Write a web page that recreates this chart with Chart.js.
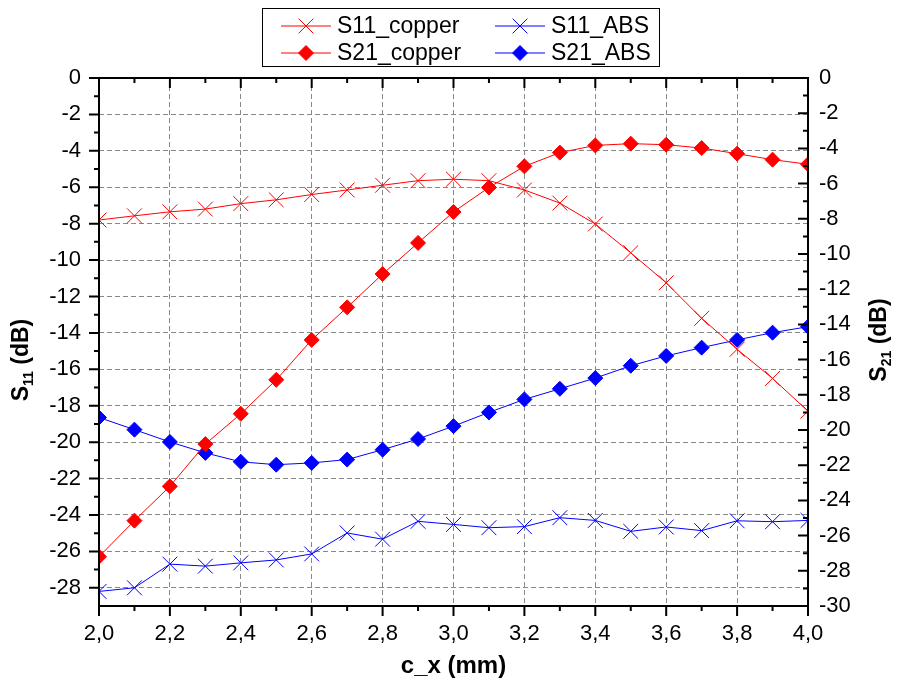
<!DOCTYPE html>
<html>
<head>
<meta charset="utf-8">
<script src="https://cdn.jsdelivr.net/npm/chart.js@4/dist/chart.umd.min.js"></script>
<style>
  html, body { margin: 0; padding: 0; background: #fff; }
</style>
</head>
<body>
<canvas id="myChart" width="900" height="684"></canvas>
<script>
// c_x in mm
const cx = [2.0, 2.1, 2.2, 2.3, 2.4, 2.5, 2.6, 2.7, 2.8, 2.9, 3.0,
            3.1, 3.2, 3.3, 3.4, 3.5, 3.6, 3.7, 3.8, 3.9, 4.0];

// S11 (left axis, dB)
const s11Copper = [-7.8, -7.57, -7.35, -7.2, -6.9, -6.69, -6.4, -6.15, -5.89, -5.64, -5.56,
                   -5.64, -6.15, -6.87, -8.02, -9.6, -11.25, -13.2, -14.9, -16.5, -18.3];
const s11Abs = [-28.2, -28.0, -26.7, -26.81, -26.63, -26.47, -26.14, -24.99, -25.33, -24.35, -24.52,
                -24.7, -24.64, -24.15, -24.3, -24.9, -24.66, -24.86, -24.32, -24.37, -24.3];

// S21 (right axis, dB)
const s21Copper = [-27.2, -25.15, -23.2, -20.8, -19.08, -17.15, -14.88, -13.03, -11.14, -9.37, -7.61,
                   -6.22, -5.02, -4.24, -3.83, -3.73, -3.79, -3.98, -4.3, -4.64, -4.9];
const s21Abs = [-19.29, -19.98, -20.68, -21.3, -21.81, -21.97, -21.87, -21.68, -21.12, -20.51, -19.78,
                -19.0, -18.26, -17.66, -17.05, -16.35, -15.79, -15.32, -14.88, -14.47, -14.13];

// tick values
const xTicks = [2.0, 2.2, 2.4, 2.6, 2.8, 3.0, 3.2, 3.4, 3.6, 3.8, 4.0];
const leftTicks = [0, -2, -4, -6, -8, -10, -12, -14, -16, -18, -20, -22, -24, -26, -28];
const rightTicks = [0, -2, -4, -6, -8, -10, -12, -14, -16, -18, -20, -22, -24, -26, -28, -30];

const FONT = '"Liberation Sans", Arial, sans-serif';
const RED = "#ff0000";
const BLUE = "#0000ff";

const pairs = (ys) => cx.map((x, i) => ({ x: x, y: ys[i] }));

function setTicks(values) {
  return (scale) => {
    scale.ticks = values.map((v) => ({ value: v }));
  };
}

function tickMarks(ctx, scale, majors, horizontal, base, dir) {
  // draw major + minor tick marks along an axis
  const mark = (v, len) => {
    const p = scale.getPixelForValue(v);
    if (horizontal) {
      ctx.moveTo(p, base);
      ctx.lineTo(p, base + dir * len);
    } else {
      ctx.moveTo(base, p);
      ctx.lineTo(base + dir * len, p);
    }
  };
  for (let i = 0; i < majors.length; i++) {
    mark(majors[i], 10);
    if (i < majors.length - 1) mark((majors[i] + majors[i + 1]) / 2, 5);
  }
}

function subTitle(ctx, px, py, main, sub, rest, rotate, size) {
  ctx.save();
  ctx.translate(px, py);
  if (rotate) ctx.rotate(-Math.PI / 2);
  const big = "bold " + size + "px " + FONT;
  const small = "bold 14px " + FONT;
  ctx.font = big;
  const w1 = ctx.measureText(main).width;
  const w3 = ctx.measureText(rest).width;
  ctx.font = small;
  const w2 = sub ? ctx.measureText(sub).width : 0;
  const start = -(w1 + w2 + w3) / 2;
  ctx.fillStyle = "#000";
  ctx.textAlign = "left";
  ctx.textBaseline = "middle";
  ctx.font = big;
  ctx.fillText(main, start, 0);
  if (sub) {
    ctx.font = small;
    ctx.fillText(sub, start + w1, 7);
  }
  ctx.font = big;
  ctx.fillText(rest, start + w1 + w2, 0);
  ctx.restore();
}

function legendMarker(ctx, style, x, y, color) {
  ctx.strokeStyle = color;
  ctx.fillStyle = color;
  ctx.lineWidth = 1;
  ctx.beginPath();
  if (style === "crossRot") {
    ctx.moveTo(x - 7.4, y - 7.4); ctx.lineTo(x + 7.4, y + 7.4);
    ctx.moveTo(x + 7.4, y - 7.4); ctx.lineTo(x - 7.4, y + 7.4);
    ctx.stroke();
  } else {
    ctx.moveTo(x - 7.5, y); ctx.lineTo(x, y - 7.5);
    ctx.lineTo(x + 7.5, y); ctx.lineTo(x, y + 7.5);
    ctx.closePath();
    ctx.fill();
    ctx.stroke();
  }
}

const decorations = {
  id: "decorations",
  afterDraw(chart) {
    const ctx = chart.ctx;
    const a = chart.chartArea;
    const { x, y, y2 } = chart.scales;
    ctx.save();
    ctx.setLineDash([]);

    // frame
    ctx.strokeStyle = "#000";
    ctx.lineWidth = 2;
    ctx.strokeRect(a.left, a.top, a.right - a.left, a.bottom - a.top);

    // tick marks: bottom/left outward, top/right inward
    ctx.beginPath();
    tickMarks(ctx, x, xTicks, true, a.bottom, 1);
    tickMarks(ctx, x, xTicks, true, a.top, 1);
    tickMarks(ctx, y, leftTicks, false, a.left, -1);
    tickMarks(ctx, y2, rightTicks, false, a.right, -1);
    ctx.stroke();

    // axis titles
    subTitle(ctx, (a.left + a.right) / 2, 666, "c_x (mm)", "", "", false, 24);
    subTitle(ctx, 22, 360, "S", "11", " (dB)", true, 23);
    subTitle(ctx, 880, 340, "S", "21", " (dB)", true, 23);

    // legend
    ctx.strokeStyle = "#000";
    ctx.lineWidth = 1;
    ctx.strokeRect(262.5, 8.5, 397, 58);
    const slots = [[281, 26], [495, 26], [281, 53], [495, 53]];
    chart.data.datasets.forEach((ds, i) => {
      const [lx, ly] = slots[i];
      ctx.strokeStyle = ds.borderColor;
      ctx.lineWidth = 1;
      ctx.beginPath();
      ctx.moveTo(lx, ly);
      ctx.lineTo(lx + 50, ly);
      ctx.stroke();
      legendMarker(ctx, ds.pointStyle, lx + 25, ly, ds.borderColor);
      ctx.fillStyle = "#000";
      ctx.font = "23px " + FONT;
      ctx.textAlign = "left";
      ctx.textBaseline = "middle";
      ctx.fillText(ds.label, lx + 56, ly + 1);
    });
    ctx.restore();
  },
};

const gridStyle = {
  color: "#888888",
  lineWidth: 1,
  drawTicks: false,
};

new Chart("myChart", {
  type: "line",
  data: {
    datasets: [
      {
        label: "S11_copper",
        data: pairs(s11Copper),
        yAxisID: "y",
        borderColor: RED,
        backgroundColor: RED,
        borderWidth: 1,
        pointStyle: "crossRot",
        pointRadius: 10.5,
        pointBorderWidth: 1,
      },
      {
        label: "S11_ABS",
        data: pairs(s11Abs),
        yAxisID: "y",
        borderColor: BLUE,
        backgroundColor: BLUE,
        borderWidth: 1,
        pointStyle: "crossRot",
        pointRadius: 10.5,
        pointBorderWidth: 1,
      },
      {
        label: "S21_copper",
        data: pairs(s21Copper),
        yAxisID: "y2",
        borderColor: RED,
        backgroundColor: RED,
        borderWidth: 1,
        pointStyle: "rectRot",
        pointRadius: 7.5,
        pointBorderWidth: 1,
      },
      {
        label: "S21_ABS",
        data: pairs(s21Abs),
        yAxisID: "y2",
        borderColor: BLUE,
        backgroundColor: BLUE,
        borderWidth: 1,
        pointStyle: "rectRot",
        pointRadius: 7.5,
        pointBorderWidth: 1,
      },
    ],
  },
  options: {
    responsive: false,
    animation: false,
    devicePixelRatio: 1,
    layout: { padding: { top: 78, left: 0, right: 0, bottom: 0 } },
    plugins: {
      legend: { display: false },
      tooltip: { enabled: false },
    },
    elements: { line: { tension: 0 } },
    scales: {
      x: {
        type: "linear",
        min: 2,
        max: 4,
        afterBuildTicks: setTicks(xTicks),
        afterFit: (s) => { s.height = 78; },
        grid: gridStyle,
        border: { display: false, dash: [5, 3] },
        ticks: {
          autoSkip: false,
          maxRotation: 0,
          padding: 15,
          color: "#000",
          font: { family: FONT, size: 22 },
          callback: (v) => v.toFixed(1).replace(".", ","),
        },
      },
      y: {
        position: "left",
        min: -29,
        max: 0,
        afterBuildTicks: setTicks(leftTicks),
        afterFit: (s) => { s.width = 99; },
        grid: gridStyle,
        border: { display: false, dash: [5, 3] },
        ticks: {
          padding: 18,
          color: "#000",
          font: { family: FONT, size: 22 },
        },
      },
      y2: {
        position: "right",
        min: -30,
        max: 0,
        afterBuildTicks: setTicks(rightTicks),
        afterFit: (s) => { s.width = 92; },
        grid: { display: false, drawTicks: false },
        border: { display: false },
        ticks: {
          padding: 11,
          color: "#000",
          font: { family: FONT, size: 22 },
        },
      },
    },
  },
  plugins: [decorations],
});
</script>
</body>
</html>
